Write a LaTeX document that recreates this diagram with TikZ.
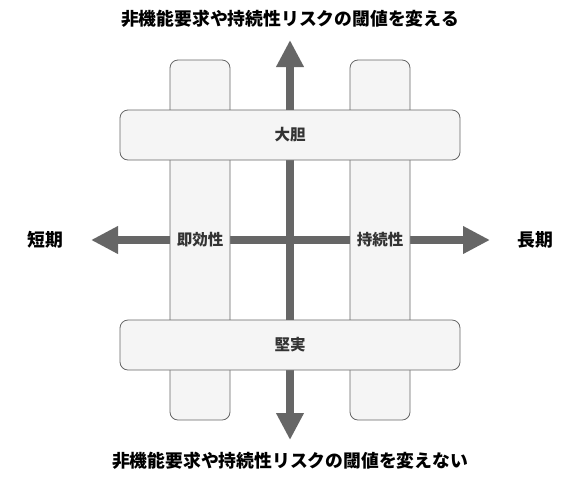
\documentclass[tikz,border=0pt]{standalone}
\usepackage{fontspec}
\setmainfont{Noto Sans CJK JP}
\usepackage{tikz}
\usetikzlibrary{arrows.meta,positioning}
\definecolor{boxfill}{HTML}{F5F5F5}
\definecolor{boxline}{HTML}{666666}
\definecolor{txt}{HTML}{333333}
\tikzstyle{col} = [draw=boxline, fill=boxfill, rounded corners=8pt, line width=0.8pt,
    minimum width=60pt, minimum height=360pt, text=txt, font=\bfseries\fontsize{15.5}{15.5}\selectfont]
\tikzstyle{bar} = [draw=boxline, fill=boxfill, rounded corners=8pt, line width=0.8pt,
    minimum width=340pt, minimum height=50pt, text=txt, font=\bfseries\fontsize{15.5}{15.5}\selectfont]
\tikzstyle{axis} = [draw=boxline, line width=8pt,
    {Triangle[length=27pt,width=26pt]}-{Triangle[length=27pt,width=26pt]}]
\tikzstyle{head} = [font=\bfseries\fontsize{17.8}{17.8}\selectfont]

\begin{document}
\begin{tikzpicture}[x=1pt, y=-1pt]
  \useasboundingbox (0,0) rectangle (580,480);
  \coordinate (n) at (290,40);
  \coordinate (s) at (290,440);
  \coordinate (w) at (91,240);
  \coordinate (e) at (490,240);
  \draw [axis] (w) -- (e);
  \draw [axis] (n) -- (s);
  \node [col] (fast) at (200,240) {即効性};
  \node [col] (last) at (380,240) {持続性};
  \node [bar] (bold) at (290,135) {大胆};
  \node [bar] (safe) at (290,345) {堅実};
  \node [head] (up) at (290,19) {非機能要求や持続性リスクの閾値を変える};
  \node [head] (down) at (290,461) {非機能要求や持続性リスクの閾値を変えない};
  \node [head] (short) at (45,240) {短期};
  \node [head] (long) at (535,240) {長期};
\end{tikzpicture}
\end{document}
